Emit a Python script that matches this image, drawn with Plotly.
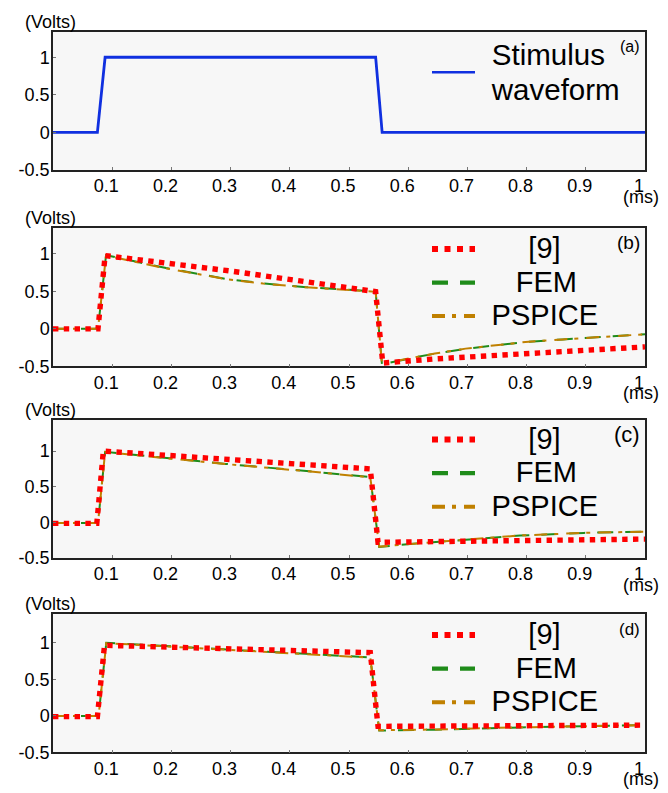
"""
Stimulus waveform and simulated responses ([9], FEM, PSPICE) in four stacked panels.
"""

import plotly.graph_objects as go

# ---- data (time in ms, voltage in V) ----
t_stim = [0.0, 0.075, 0.088, 0.545, 0.556, 1.0]
v_stim = [0.0, 0.0, 1.0, 1.0, 0.0, 0.0]

t_ref9_b = [0.0, 0.076, 0.088, 0.30, 0.545, 0.557, 0.645, 0.717, 0.789, 0.861, 0.934, 1.0]
v_ref9_b = [0.0, 0.0, 0.975, 0.77, 0.495, -0.455, -0.40, -0.37, -0.335, -0.30, -0.265, -0.24]
t_fem_b = [0.0, 0.076, 0.0896, 0.139, 0.191, 0.247, 0.292, 0.355, 0.428, 0.50, 0.545, 0.556,
           0.565, 0.608, 0.645, 0.697, 0.753, 0.798, 0.861, 0.899, 0.95, 1.0]
v_fem_b = [0.0, 0.0, 0.98, 0.90, 0.81, 0.73, 0.665, 0.605, 0.555, 0.52, 0.495, -0.50,
           -0.455, -0.385, -0.33, -0.265, -0.21, -0.175, -0.14, -0.12, -0.095, -0.072]
t_psp_b = [0.0, 0.076, 0.0896, 0.139, 0.191, 0.247, 0.292, 0.355, 0.428, 0.50, 0.545, 0.556,
           0.565, 0.608, 0.645, 0.697, 0.753, 0.798, 0.861, 0.899, 0.95, 1.0]
v_psp_b = [0.0, 0.0, 0.975, 0.895, 0.805, 0.727, 0.662, 0.603, 0.553, 0.518, 0.493, -0.49,
           -0.45, -0.383, -0.328, -0.263, -0.21, -0.175, -0.14, -0.12, -0.094, -0.072]

t_ref9_c = [0.0, 0.074, 0.085, 0.536, 0.549, 0.645, 0.789, 1.0]
v_ref9_c = [-0.015, -0.015, 1.0, 0.75, -0.28, -0.267, -0.253, -0.235]
t_fem_c = [0.0, 0.076, 0.088, 0.292, 0.428, 0.536, 0.551, 0.608, 0.697, 0.789, 0.897, 1.0]
v_fem_c = [-0.01, -0.01, 0.99, 0.82, 0.72, 0.635, -0.345, -0.30, -0.245, -0.185, -0.148, -0.13]
t_psp_c = [0.0, 0.076, 0.088, 0.292, 0.428, 0.536, 0.551, 0.608, 0.697, 0.789, 0.897, 1.0]
v_psp_c = [-0.01, -0.01, 0.985, 0.818, 0.718, 0.632, -0.34, -0.298, -0.243, -0.184, -0.147, -0.13]

t_ref9_d = [0.0, 0.075, 0.087, 0.536, 0.549, 1.0]
v_ref9_d = [-0.01, -0.01, 0.965, 0.865, -0.143, -0.126]
t_fem_d = [0.0, 0.077, 0.09, 0.536, 0.551, 0.645, 0.789, 1.0]
v_fem_d = [0.0, 0.0, 1.0, 0.80, -0.20, -0.188, -0.157, -0.126]
t_psp_d = [0.0, 0.077, 0.09, 0.536, 0.551, 0.645, 0.789, 1.0]
v_psp_d = [0.0, 0.0, 0.995, 0.797, -0.195, -0.186, -0.156, -0.126]

x_tickvals = [0.1, 0.2, 0.3, 0.4, 0.5, 0.6, 0.7, 0.8, 0.9, 1.0]
x_ticktext = ["0.1", "0.2", "0.3", "0.4", "0.5", "0.6", "0.7", "0.8", "0.9", "1"]
y_tickvals = [-0.5, 0, 0.5, 1]
y_ticktext = ["-0.5", "0", "0.5", "1"]
y_ranges = [[-0.5, 1.34], [-0.5, 1.34], [-0.5, 1.44], [-0.5, 1.39]]
panel_tags = ["(a)", "(b)", "(c)", "(d)"]
tag_sizes = [16, 19, 22, 17]

series_names = ["[9]", "FEM", "PSPICE"]

FONT = "Liberation Sans, Arial, sans-serif"
RED = "#ff0000"
GREEN = "#1f8c1a"
ORANGE = "#c08000"
BLUE = "#1030e0"
FEM_DASH = "16px,12px"
PSP_DASH = "13px,7px,4px,8px"

# panel geometry in pixels of the 668x793 page
W, H = 668, 793
panel_tops = [24, 223, 417, 614]
panel_bottoms = [164, 363, 557, 754]
legend_tops = [23, 222, 415, 613]

NB = "\u00a0"
TH = "\u2009"


def big(text):
    return "<span style='font-size:29px'>" + text + "</span>"


padded = [NB * 6 + series_names[0], NB * 3 + TH * 2 + series_names[1], TH * 2 + series_names[2]]

fig = go.Figure()

# (a) stimulus
fig.add_trace(go.Scatter(x=t_stim, y=v_stim, mode="lines", xaxis="x", yaxis="y",
                         line=dict(color=BLUE, width=2.8), showlegend=False))
fig.add_trace(go.Scatter(x=[None], y=[None], mode="lines", legend="legend",
                         name="<span style='font-size:29.5px'>" + TH * 2 + "Stimulus</span><br>"
                              "<span style='font-size:29.5px'>" + TH * 2 + "waveform</span>",
                         line=dict(color=BLUE, width=2.6)))

panels = [
    (t_ref9_b, v_ref9_b, t_fem_b, v_fem_b, t_psp_b, v_psp_b),
    (t_ref9_c, v_ref9_c, t_fem_c, v_fem_c, t_psp_c, v_psp_c),
    (t_ref9_d, v_ref9_d, t_fem_d, v_fem_d, t_psp_d, v_psp_d),
]

for i, (tr, vr, tf, vf, tp, vp) in enumerate(panels):
    k = str(i + 2)
    leg = "legend" + k
    fig.add_trace(go.Scatter(x=tf, y=vf, mode="lines", xaxis="x" + k, yaxis="y" + k,
                             line=dict(color=GREEN, width=2, dash=FEM_DASH), showlegend=False))
    fig.add_trace(go.Scatter(x=tp, y=vp, mode="lines", xaxis="x" + k, yaxis="y" + k,
                             line=dict(color=ORANGE, width=2, dash=PSP_DASH), showlegend=False))
    fig.add_trace(go.Scatter(x=tr, y=vr, mode="lines", xaxis="x" + k, yaxis="y" + k,
                             line=dict(color=RED, width=5.4, dash="dot"), showlegend=False))
    # legend entries
    fig.add_trace(go.Scatter(x=[None], y=[None], mode="lines", legend=leg, name=big(padded[0]),
                             line=dict(color=RED, width=6, dash="6px,6.5px")))
    fig.add_trace(go.Scatter(x=[None], y=[None], mode="lines", legend=leg, name=big(padded[1]),
                             line=dict(color=GREEN, width=4.3, dash=FEM_DASH)))
    fig.add_trace(go.Scatter(x=[None], y=[None], mode="lines", legend=leg, name=big(padded[2]),
                             line=dict(color=ORANGE, width=4, dash=PSP_DASH)))

layout = dict(
    width=W, height=H, autosize=False,
    margin=dict(l=0, r=0, t=0, b=0),
    paper_bgcolor="white", plot_bgcolor="#f7f7f7",
    font=dict(family=FONT, color="black", size=18),
    annotations=[], showlegend=True,
)

x0, x1 = 45 / W, 637 / W
for i in range(4):
    s = "" if i == 0 else str(i + 1)
    dom = [1 - panel_bottoms[i] / H, 1 - panel_tops[i] / H]
    layout["xaxis" + s] = dict(
        domain=[x0, x1], range=[0, 1], anchor="y" + s,
        tickvals=x_tickvals, ticktext=x_ticktext, ticks="inside", ticklen=3,
        tickcolor="#777", tickfont=dict(size=18, family=FONT, color="black"),
        ticklabelshift=-6, ticklabelstandoff=-1,
        showgrid=False, zeroline=False,
        showline=True, linecolor="#222", linewidth=1.5, mirror=True,
    )
    layout["yaxis" + s] = dict(
        domain=dom, range=y_ranges[i], anchor="x" + s,
        tickvals=y_tickvals, ticktext=y_ticktext, ticks="inside", ticklen=3,
        tickcolor="#777", tickfont=dict(size=18, family=FONT, color="black"),
        ticklabelstandoff=-2, showgrid=False, zeroline=False,
        showline=True, linecolor="#222", linewidth=1.5, mirror=True,
    )
    layout["annotations"].append(dict(
        text="(Volts)", xref="paper", yref="paper", x=15 / W, y=1 - (panel_tops[i] - 10) / H,
        xanchor="left", yanchor="middle", showarrow=False, font=dict(size=18, family=FONT)))
    layout["annotations"].append(dict(
        text="(ms)", xref="paper", yref="paper", x=653 / W, y=1 - (panel_bottoms[i] + 27) / H,
        xanchor="right", yanchor="middle", showarrow=False, font=dict(size=18, family=FONT)))
    layout["annotations"].append(dict(
        text=panel_tags[i], xref="paper", yref="paper", x=634 / W,
        y=1 - (panel_tops[i] + 15) / H, xanchor="right", yanchor="middle", showarrow=False,
        font=dict(size=tag_sizes[i], family=FONT)))
    leg = "legend" + s
    layout[leg] = dict(
        x=419 / W, y=1 - legend_tops[i] / H, xanchor="left", yanchor="top",
        bgcolor="rgba(0,0,0,0)", borderwidth=0, itemwidth=43,
        font=dict(size=27 if i == 0 else 23.5, family=FONT, color="black"),
        itemclick=False, itemdoubleclick=False,
    )

fig.update_layout(**layout)
fig.write_html("out.html")
